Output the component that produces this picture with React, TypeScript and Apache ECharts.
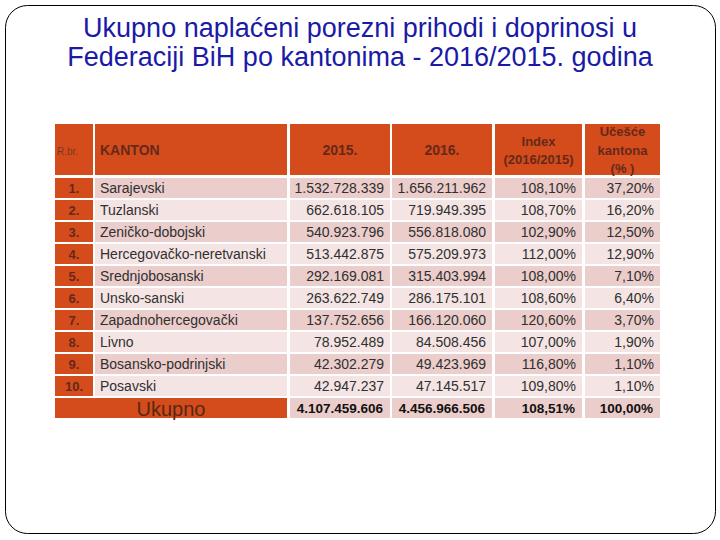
import React, { useEffect, useRef } from "react";
import * as echarts from "echarts";

// ---- data ----
const rowNumbers = ["1.", "2.", "3.", "4.", "5.", "6.", "7.", "8.", "9.", "10."];
const cantons = [
  "Sarajevski",
  "Tuzlanski",
  "Zeničko-dobojski",
  "Hercegovačko-neretvanski",
  "Srednjobosanski",
  "Unsko-sanski",
  "Zapadnohercegovački",
  "Livno",
  "Bosansko-podrinjski",
  "Posavski",
];
const revenue2015 = [1532728339, 662618105, 540923796, 513442875, 292169081, 263622749, 137752656, 78952489, 42302279, 42947237];
const revenue2016 = [1656211962, 719949395, 556818080, 575209973, 315403994, 286175101, 166120060, 84508456, 49423969, 47145517];
const indexValues = [108.1, 108.7, 102.9, 112.0, 108.0, 108.6, 120.6, 107.0, 116.8, 109.8];
const shareValues = [37.2, 16.2, 12.5, 12.9, 7.1, 6.4, 3.7, 1.9, 1.1, 1.1];
const totalLabel = "Ukupno";
const total2015 = 4107459606;
const total2016 = 4456966506;
const totalIndex = 108.51;
const totalShare = 100.0;
const headerLabels = ["R.br.", "KANTON", "2015.", "2016.", "Index\n(2016/2015)", "Učešće\nkantona\n(% )"];
const titleText = "Ukupno naplaćeni porezni prihodi i doprinosi u\nFederaciji BiH po kantonima - 2016/2015. godina";

// ---- layout / style ----
const COLS = [
  { x0: 55, x1: 93 },
  { x0: 95, x1: 287 },
  { x0: 290, x1: 390 },
  { x0: 392, x1: 492 },
  { x0: 495, x1: 582 },
  { x0: 585, x1: 660 },
];
const FONT = "'Liberation Sans', Arial, Helvetica, sans-serif";
const ORANGE = "#D44C1C";
const PINK_DARK = "#EBCDCB";
const PINK_LIGHT = "#F4E4E3";
const HEAD_TEXT = "#66281A";
const CELL_TEXT = "#303030";

const fmtNum = (n: number) => String(n).replace(/\B(?=(\d{3})+(?!\d))/g, ".");
const fmtPct = (n: number) => n.toFixed(2).replace(".", ",") + "%";

export default function App() {
  const ref = useRef<HTMLDivElement>(null);
  useEffect(() => {
    if (!ref.current) return;
    const chart = echarts.init(ref.current, undefined, { renderer: "svg" });

    const rowCategories = [...cantons, totalLabel];
    const seriesData = rowCategories.map((_, i) => [0, i]);

    const headerTop = 124;
    const headerH = 51;
    const headerGraphics: any[] = [];
    COLS.forEach((c) => {
      headerGraphics.push({
        type: "rect",
        shape: { x: c.x0, y: headerTop, width: c.x1 - c.x0, height: headerH },
        style: { fill: ORANGE },
        silent: true,
      });
    });
    headerGraphics.push({
      type: "text",
      style: { x: 57, y: headerTop + 27, text: headerLabels[0], font: `normal 10px ${FONT}`, fill: "#7a3a22", align: "left", verticalAlign: "middle" },
    });
    headerGraphics.push({
      type: "text",
      style: { x: 100, y: headerTop + 26, text: headerLabels[1], font: `bold 14px ${FONT}`, fill: HEAD_TEXT, align: "left", verticalAlign: "middle" },
    });
    [2, 3].forEach((k) => {
      headerGraphics.push({
        type: "text",
        style: { x: (COLS[k].x0 + COLS[k].x1) / 2, y: headerTop + 26, text: headerLabels[k], font: `bold 14px ${FONT}`, fill: HEAD_TEXT, align: "center", verticalAlign: "middle" },
      });
    });
    headerGraphics.push({
      type: "text",
      style: { x: (COLS[4].x0 + COLS[4].x1) / 2, y: headerTop + 26, text: headerLabels[4], font: `bold 13px ${FONT}`, fill: HEAD_TEXT, align: "center", verticalAlign: "middle", lineHeight: 18 },
    });
    headerGraphics.push({
      type: "text",
      style: { x: (COLS[5].x0 + COLS[5].x1) / 2, y: headerTop + 26, text: headerLabels[5], font: `bold 13px ${FONT}`, fill: HEAD_TEXT, align: "center", verticalAlign: "middle", lineHeight: 18.5 },
    });

    const renderItem = (params: any, api: any) => {
      const i = api.value(1);
      const c = api.coord([0, i]);
      const cy = c[1];
      const bh = api.size([0, 1])[1];
      const y0 = cy - bh / 2 + 1;
      const h = bh - 2;
      const X = (v: number) => api.coord([v, i])[0];
      const children: any[] = [];
      const rectEl = (x0: number, x1: number, fill: string) => ({
        type: "rect",
        shape: { x: X(x0), y: y0, width: X(x1) - X(x0), height: h },
        style: { fill },
      });
      const textEl = (x: number, text: string, font: string, fill: string, align: string, dy = 0) => ({
        type: "text",
        style: { x, y: cy + dy, text, font, fill, align, verticalAlign: "middle" },
      });
      if (i < cantons.length) {
        const fill = i % 2 === 0 ? PINK_DARK : PINK_LIGHT;
        children.push(rectEl(COLS[0].x0, COLS[0].x1, ORANGE));
        children.push(textEl((X(COLS[0].x0) + X(COLS[0].x1)) / 2, rowNumbers[i], `bold 13px ${FONT}`, HEAD_TEXT, "center"));
        for (let k = 1; k < COLS.length; k++) children.push(rectEl(COLS[k].x0, COLS[k].x1, fill));
        children.push(textEl(X(COLS[1].x0) + 5, cantons[i], `normal 14px ${FONT}`, CELL_TEXT, "left"));
        const vals = [fmtNum(revenue2015[i]), fmtNum(revenue2016[i]), fmtPct(indexValues[i]), fmtPct(shareValues[i])];
        vals.forEach((v, j) => {
          children.push(textEl(X(COLS[j + 2].x1) - 6, v, `normal 14px ${FONT}`, CELL_TEXT, "right"));
        });
      } else {
        children.push(rectEl(COLS[0].x0, COLS[1].x1, ORANGE));
        children.push(textEl((X(COLS[0].x0) + X(COLS[1].x1)) / 2, totalLabel, `normal 20px ${FONT}`, "#5a2614", "center", 1));
        for (let k = 2; k < COLS.length; k++) children.push(rectEl(COLS[k].x0, COLS[k].x1, PINK_DARK));
        const vals = [fmtNum(total2015), fmtNum(total2016), fmtPct(totalIndex), fmtPct(totalShare)];
        vals.forEach((v, j) => {
          children.push(textEl(X(COLS[j + 2].x1) - 7, v, `bold 13.5px ${FONT}`, "#111111", "right"));
        });
      }
      return { type: "group", children };
    };

    chart.setOption({
      animation: false,
      backgroundColor: "#ffffff",
      title: {
        text: titleText,
        left: "center",
        top: 8,
        textStyle: { fontFamily: FONT, fontSize: 27, fontWeight: "normal", color: "#1A1AA6", lineHeight: 29 },
      },
      grid: { left: 0, right: 0, top: 177, height: 242, containLabel: false },
      xAxis: { type: "value", min: 0, max: 720, show: false },
      yAxis: { type: "category", data: rowCategories, inverse: true, show: false },
      series: [
        {
          type: "custom",
          coordinateSystem: "cartesian2d",
          renderItem,
          data: seriesData,
          clip: false,
          silent: true,
        },
      ],
      graphic: [
        {
          type: "rect",
          shape: { x: 5.5, y: 5.5, width: 710, height: 528, r: 22 },
          style: { fill: "none", stroke: "#000000", lineWidth: 1 },
          silent: true,
        },
        ...headerGraphics,
      ],
    });
    return () => chart.dispose();
  }, []);
  return <div ref={ref} style={{ position: "absolute", left: 0, top: 0, width: 720, height: 540 }} />;
}
